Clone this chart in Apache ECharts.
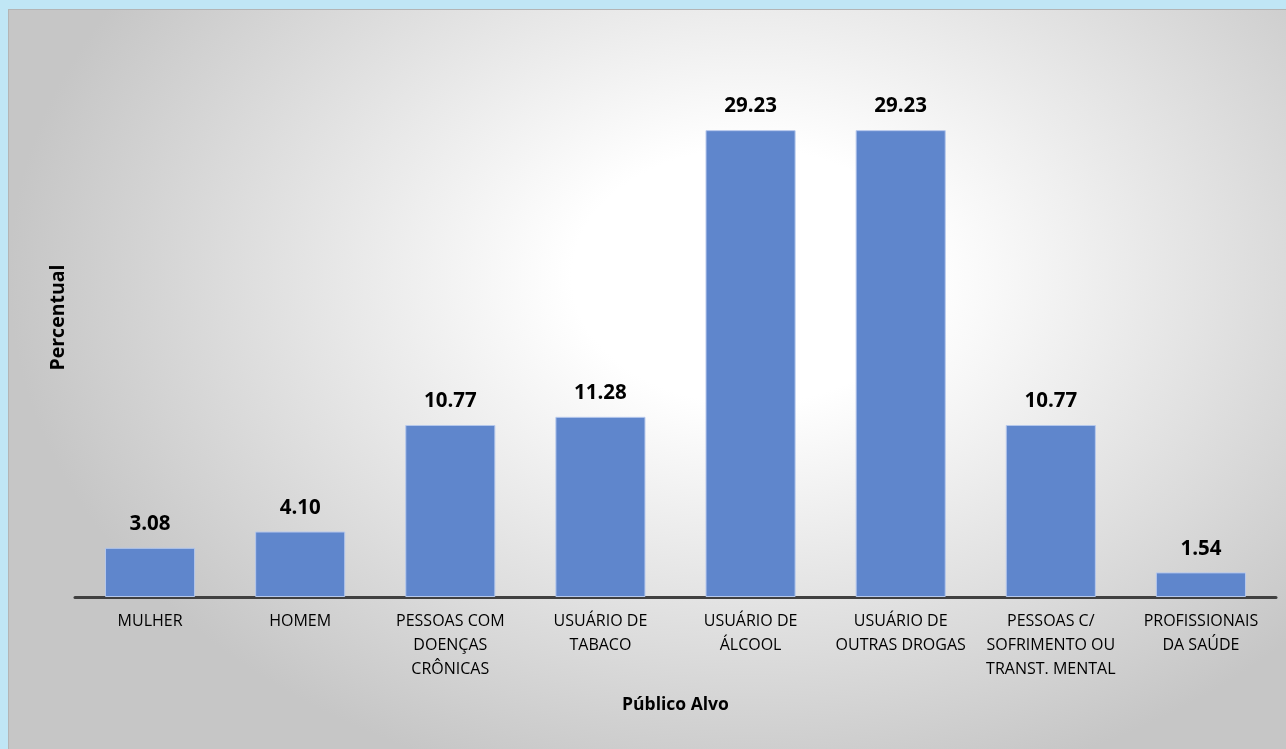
<!DOCTYPE html>
<html>
<head>
<meta charset="utf-8">
<script src="https://cdn.jsdelivr.net/npm/echarts@6/dist/echarts.min.js"></script>
<style>
  html, body { margin: 0; padding: 0; width: 1286px; height: 749px; overflow: hidden; background: #c0e6f5; }
  #panel {
    position: absolute; left: 8px; top: 9px; width: 1278px; height: 740px;
    border-top: 1px solid #b4b4b4; border-left: 1px solid #b4b4b4; box-sizing: border-box;
    background: radial-gradient(ellipse 58% 72% at 58% 36%, #ffffff 24%, #c6c6c6 100%);
  }
  #chart { position: absolute; left: 0; top: 0; width: 1286px; height: 749px; }
</style>
</head>
<body>
<div id="panel"></div>
<div id="chart"></div>
<script>
const categories = [
  'MULHER',
  'HOMEM',
  'PESSOAS COM\nDOENÇAS\nCRÔNICAS',
  'USUÁRIO DE\nTABACO',
  'USUÁRIO DE\nÁLCOOL',
  'USUÁRIO DE\nOUTRAS DROGAS',
  'PESSOAS C/\nSOFRIMENTO OU\nTRANST. MENTAL',
  'PROFISSIONAIS\nDA SAÚDE'
];
const values = [3.08, 4.10, 10.77, 11.28, 29.23, 29.23, 10.77, 1.54];
const xAxisTitle = 'Público Alvo';
const yAxisTitle = 'Percentual';

const chart = echarts.init(document.getElementById('chart'), null, { renderer: 'canvas' });
chart.setOption({
  backgroundColor: 'transparent',
  animation: false,
  textStyle: { fontFamily: 'Open Sans' },
  grid: { left: 75, right: 10, top: 38, bottom: 152, containLabel: false },
  xAxis: {
    type: 'category',
    data: categories,
    name: xAxisTitle,
    nameLocation: 'middle',
    nameGap: 99,
    nameTextStyle: { fontFamily: 'Open Sans', fontWeight: 'bold', fontSize: 17.5, color: '#000' },
    axisLine: { show: true, lineStyle: { color: '#404040', width: 3 } },
    axisTick: { show: false },
    axisLabel: {
      interval: 0, margin: 12, color: '#000',
      fontFamily: 'Open Sans', fontSize: 16, lineHeight: 24, align: 'center'
    },
    splitLine: { show: false }
  },
  yAxis: {
    type: 'value',
    min: 0,
    max: 35,
    name: yAxisTitle,
    nameLocation: 'middle',
    nameGap: 7,
    nameRotate: 90,
    nameTextStyle: { fontFamily: 'Open Sans', fontWeight: 'bold', fontSize: 19.5, color: '#000' },
    axisLine: { show: false },
    axisTick: { show: false },
    axisLabel: { show: false },
    splitLine: { show: false }
  },
  series: [{
    type: 'bar',
    data: values,
    barCategoryGap: '40%',
    itemStyle: { color: '#5f86cc', borderColor: '#b6c8ec', borderWidth: 1 },
    label: {
      show: true, position: 'top', distance: 13,
      formatter: p => p.value.toFixed(2),
      fontFamily: 'Open Sans', fontWeight: 'bold', fontSize: 20.5, color: '#000'
    }
  }]
});
</script>
</body>
</html>
